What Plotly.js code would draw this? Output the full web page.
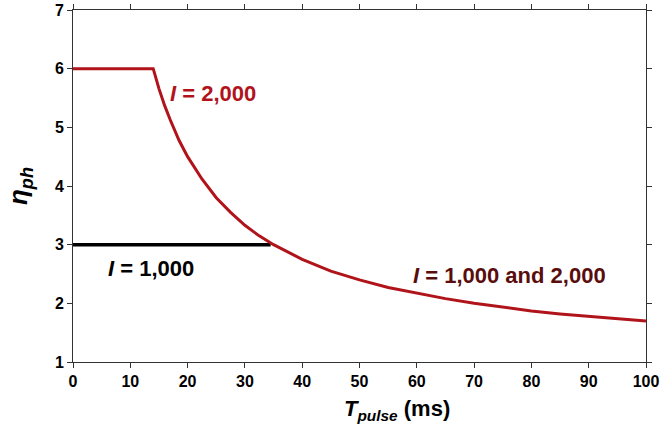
<!DOCTYPE html>
<html>
<head>
<meta charset="utf-8">
<script src="https://cdn.plot.ly/plotly-3.0.1.min.js"></script>
<style>html,body{margin:0;padding:0;background:#fff;}#chart{width:660px;height:435px;}</style>
</head>
<body>
<div id="chart"></div>
<script>
// I = 1,000 plateau
const tBlack = [0, 34.5];
const etaBlack = [3.0, 3.0];
// I = 2,000 curve (merges with I = 1,000 beyond ~34.5 ms)
const tRed = [0, 14, 15, 16, 17, 18.5, 20, 22.5, 25, 27.5, 30, 32.5, 35, 40, 45, 50, 55, 60, 65, 70, 75, 80, 85, 90, 95, 100];
const etaRed = [6.0, 6.0, 5.66, 5.37, 5.12, 4.78, 4.5, 4.12, 3.8, 3.55, 3.33, 3.15, 3.0, 2.75, 2.55, 2.4, 2.27, 2.17, 2.08, 2.0, 1.93, 1.87, 1.82, 1.78, 1.74, 1.7];
const xTicks = [0, 10, 20, 30, 40, 50, 60, 70, 80, 90, 100];
const yTicks = [1, 2, 3, 4, 5, 6, 7];
const labels = [
  {text: '<b><i>I</i> = 2,000</b>', x: 24.5, y: 5.58, color: '#b0141a'},
  {text: '<b><i>I</i> = 1,000</b>', x: 13.6, y: 2.6, color: '#000000'},
  {text: '<b><i>I</i> = 1,000 and 2,000</b>', x: 76.2, y: 2.48, color: '#5a0d0d'}
];
const xTitle = '<b><i>T</i></b><sub><b><i>pulse</i></b></sub><b> (ms)</b>';
const yTitle = '<b><i>η</i></b><sub><b><i>ph</i></b></sub>';

const fontFam = 'Liberation Sans, Arial, sans-serif';
const traces = [
  {x: tBlack, y: etaBlack, mode: 'lines', line: {color: '#000000', width: 3.5}, hoverinfo: 'skip'},
  {x: tRed, y: etaRed, mode: 'lines', line: {color: '#b0141a', width: 3}, hoverinfo: 'skip'}
];
const axisBase = {
  showline: true, linecolor: '#333', linewidth: 1, mirror: 'ticks',
  ticks: 'outside', ticklen: 5, tickwidth: 1, tickcolor: '#333',
  showgrid: false, zeroline: false,
  tickfont: {family: fontFam, size: 16, color: '#000', weight: 'bold'}
};
const annots = labels.map(l => ({
  text: l.text, x: l.x, y: l.y, xref: 'x', yref: 'y', showarrow: false,
  font: {family: fontFam, size: 22, color: l.color}
}));
annots.push({
  text: xTitle, xref: 'x', yref: 'paper', x: 56.5, y: 0, yshift: -48, yanchor: 'middle',
  showarrow: false, font: {family: fontFam, size: 22, color: '#000'}
});
const layout = {
  width: 660, height: 435,
  margin: {l: 73, r: 14, t: 10, b: 73},
  paper_bgcolor: '#fff', plot_bgcolor: '#fff',
  showlegend: false,
  xaxis: Object.assign({}, axisBase, {
    range: [0, 100], tickvals: xTicks, ticktext: xTicks.map(String)
  }),
  yaxis: Object.assign({}, axisBase, {
    range: [1, 7], tickvals: yTicks, ticktext: yTicks.map(String),
    title: {text: yTitle, font: {family: fontFam, size: 26, color: '#000'}, standoff: 19}
  }),
  annotations: annots
};
Plotly.newPlot('chart', traces, layout, {displayModeBar: false, staticPlot: true});
</script>
</body>
</html>
